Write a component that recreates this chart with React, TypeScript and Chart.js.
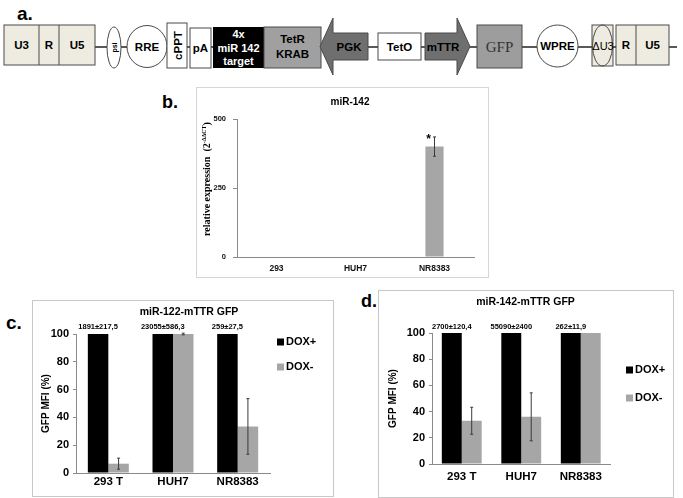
import React, { useEffect, useRef } from 'react';
import { Chart, registerables } from 'chart.js';

Chart.register(...registerables);

// ---------- data ----------
const expressionCategories = ['293', 'HUH7', 'NR8383'];
const mir142Expression = [0, 0, 400];
const mir142Error = [0, 0, 35];
const mir142Marks = ['', '', '*'];
const expressionStep = 250;
const expressionMax = 500;

const gfpCategories = ['293 T', 'HUH7', 'NR8383'];
const seriesNames = ['DOX+', 'DOX-'];
const gfpStep = 20;
const gfpMax = 100;

const mir122DoxPlus = [100, 100, 100];
const mir122DoxMinus = [6.7, 100, 33.5];
const mir122DoxMinusErr = [4, 0.6, 20];
const mir122MfiLabels = ['1891±217,5', '23055±586,3', '259±27,5'];

const mir142DoxPlus = [100, 100, 100];
const mir142DoxMinus = [33, 36, 100];
const mir142DoxMinusErr = [10.3, 18.3, 0];
const mir142MfiLabels = ['2700±120,4', '55090±2400', '262±11,9'];

// ---------- styles ----------
const SANS = '"Liberation Sans", Arial, sans-serif';
const SERIF = '"Liberation Serif", "Times New Roman", serif';
const BEIGE = '#EEECE1';
const STROKE = '#4a4a4a';
const BLACK = '#000000';
const GREY = '#A6A6A6';
const AXIS = '#8a8a8a';

// ---------- plugins ----------
const errorBarsPlugin = {
  id: 'errorBars',
  afterDatasetsDraw(chart: any) {
    const { ctx } = chart;
    const yScale = chart.scales.y;
    chart.data.datasets.forEach((ds: any, di: number) => {
      if (!ds.errors) return;
      const meta = chart.getDatasetMeta(di);
      meta.data.forEach((bar: any, i: number) => {
        const e = ds.errors[i];
        if (!e) return;
        const v = ds.data[i];
        const yTop = yScale.getPixelForValue(v + e);
        const yBot = yScale.getPixelForValue(v - e);
        ctx.save();
        ctx.strokeStyle = '#3a3a3a';
        ctx.lineWidth = 1;
        ctx.beginPath();
        ctx.moveTo(bar.x, yTop);
        ctx.lineTo(bar.x, yBot);
        ctx.moveTo(bar.x - 1.5, yTop);
        ctx.lineTo(bar.x + 1.5, yTop);
        ctx.moveTo(bar.x - 1.5, yBot);
        ctx.lineTo(bar.x + 1.5, yBot);
        ctx.stroke();
        ctx.restore();
      });
    });
  },
};

const barLabelsPlugin = {
  id: 'barLabels',
  afterDatasetsDraw(chart: any, _args: any, opts: any) {
    if (!opts || !opts.labels) return;
    const { ctx } = chart;
    const di = opts.datasetIndex || 0;
    const ds: any = chart.data.datasets[di];
    const meta = chart.getDatasetMeta(di);
    const yScale = chart.scales.y;
    ctx.save();
    ctx.font = opts.font;
    ctx.fillStyle = opts.color || '#000';
    ctx.textAlign = 'center';
    ctx.textBaseline = 'middle';
    meta.data.forEach((bar: any, i: number) => {
      const label = opts.labels[i];
      if (!label) return;
      let top = bar.y;
      if (opts.aboveError && ds.errors && ds.errors[i]) {
        top = yScale.getPixelForValue(ds.data[i] + ds.errors[i]);
      }
      ctx.fillText(label, bar.x + (opts.dx || 0), top - opts.gap);
    });
    ctx.restore();
  },
};

const sideLegendPlugin = {
  id: 'sideLegend',
  afterDraw(chart: any, _args: any, opts: any) {
    if (!opts || !opts.display) return;
    const { ctx } = chart;
    ctx.save();
    chart.data.datasets.forEach((ds: any, i: number) => {
      const y = opts.y + i * opts.spacing;
      ctx.fillStyle = ds.backgroundColor;
      ctx.fillRect(opts.x, y - opts.box / 2, opts.box, opts.box);
      ctx.fillStyle = '#000';
      ctx.font = opts.font;
      ctx.textAlign = 'left';
      ctx.textBaseline = 'middle';
      ctx.fillText(ds.label, opts.x + opts.box + opts.gap, y);
    });
    ctx.restore();
  },
};

const richAxisTitlePlugin = {
  id: 'richAxisTitle',
  afterDraw(chart: any, _args: any, opts: any) {
    if (!opts || !opts.parts) return;
    const { ctx, chartArea } = chart;
    ctx.save();
    ctx.translate(opts.x, (chartArea.top + chartArea.bottom) / 2 + (opts.dy || 0));
    ctx.rotate(-Math.PI / 2);
    ctx.fillStyle = '#000';
    ctx.textAlign = 'left';
    ctx.textBaseline = 'middle';
    let total = 0;
    opts.parts.forEach((p: any) => {
      ctx.font = p.font;
      total += ctx.measureText(p.text).width;
    });
    let x = -total / 2;
    opts.parts.forEach((p: any) => {
      ctx.font = p.font;
      ctx.fillText(p.text, x, -(p.raise || 0));
      x += ctx.measureText(p.text).width;
    });
    ctx.restore();
  },
};

Chart.register(errorBarsPlugin, barLabelsPlugin, sideLegendPlugin, richAxisTitlePlugin);
Chart.defaults.font.family = SANS;

// ---------- chart builders ----------
function gfpConfig(
  title: string,
  plus: number[],
  minus: number[],
  minusErr: number[],
  labels: string[],
  geo: any
) {
  return {
    type: 'bar',
    data: {
      labels: gfpCategories,
      datasets: [
        { label: seriesNames[0], data: plus, backgroundColor: BLACK, borderWidth: 0, categoryPercentage: geo.catPct, barPercentage: 1 },
        { label: seriesNames[1], data: minus, errors: minusErr, backgroundColor: GREY, borderWidth: 0, categoryPercentage: geo.catPct, barPercentage: 1 },
      ],
    },
    options: {
      responsive: false,
      animation: false,
      devicePixelRatio: 1,
      layout: { padding: { left: 0, right: 0, top: 0, bottom: geo.padBottom } },
      plugins: {
        legend: { display: false },
        tooltip: { enabled: false },
        title: {
          display: true,
          text: title,
          color: '#000',
          font: { family: SANS, size: 10.5, weight: 'bold' },
          padding: { top: geo.titleTop, bottom: geo.titleBottom },
        },
        barLabels: { labels, datasetIndex: 0, font: `bold 7.5px ${SANS}`, gap: geo.labelGap },
        sideLegend: { display: true, x: geo.legX, y: geo.legY, spacing: geo.legSpacing, box: 7, gap: 2, font: `bold 11px ${SANS}` },
      },
      scales: {
        x: {
          type: 'category',
          grid: { display: false, drawTicks: false },
          border: { display: true, color: AXIS, width: 1 },
          ticks: { color: '#000', font: { family: SANS, size: 11.5, weight: 'bold' }, padding: geo.xPad, maxRotation: 0 },
          afterFit: (s: any) => { s.height = geo.xHeight; },
        },
        y: {
          min: 0,
          max: gfpMax,
          ticks: { stepSize: gfpStep, color: '#000', font: { family: SANS, size: 11, weight: 'bold' }, padding: 4 },
          grid: { display: true, drawOnChartArea: false, drawTicks: true, tickLength: 3, color: AXIS },
          border: { display: true, color: AXIS, width: 1 },
          title: {
            display: true,
            text: 'GFP MFI (%)',
            color: '#000',
            font: { family: SANS, size: 10, weight: 'bold' },
            padding: { top: geo.yTitlePad, bottom: 0 },
          },
          afterFit: (s: any) => { s.width = geo.yWidth; },
        },
        pad: {
          position: 'right',
          display: true,
          grid: { display: false, drawTicks: false },
          ticks: { display: false },
          border: { display: false },
          afterFit: (s: any) => { s.width = geo.rightWidth; },
        },
      },
    },
  };
}

function expressionConfig() {
  return {
    type: 'bar',
    data: {
      labels: expressionCategories,
      datasets: [
        {
          label: 'miR-142',
          data: mir142Expression,
          errors: mir142Error,
          backgroundColor: GREY,
          borderWidth: 0,
          categoryPercentage: 1,
          barPercentage: 0.23,
        },
      ],
    },
    options: {
      responsive: false,
      animation: false,
      devicePixelRatio: 1,
      layout: { padding: { left: 0, right: 0, top: 0, bottom: 1 } },
      plugins: {
        legend: { display: false },
        tooltip: { enabled: false },
        title: {
          display: true,
          text: 'miR-142',
          color: '#000',
          font: { family: SANS, size: 10, weight: 'bold' },
          padding: { top: 9.5, bottom: 10.5 },
        },
        barLabels: { labels: mir142Marks, datasetIndex: 0, font: `bold 12px ${SANS}`, gap: -3, dx: -6, aboveError: true },
        richAxisTitle: {
          x: 10,
          dy: -9,
          parts: [
            { text: 'relative expression  (2', font: `bold 10px ${SERIF}` },
            { text: '-ΔΔCT', font: `bold 6px ${SERIF}`, raise: 3 },
            { text: ')', font: `bold 10px ${SERIF}` },
          ],
        },
      },
      scales: {
        x: {
          type: 'category',
          grid: { display: false, drawTicks: false },
          border: { display: true, color: AXIS, width: 1 },
          ticks: { color: '#111', font: { family: SANS, size: 8.5, weight: 'bold' }, padding: 7, maxRotation: 0 },
          afterFit: (s: any) => { s.height = 20; },
        },
        y: {
          min: 0,
          max: expressionMax,
          ticks: { stepSize: expressionStep, color: '#111', font: { family: SANS, size: 7.5, weight: 'bold' }, padding: 7 },
          grid: { display: true, drawOnChartArea: false, drawTicks: true, tickLength: 4, color: AXIS },
          border: { display: true, color: AXIS, width: 1 },
          afterFit: (s: any) => { s.width = 40; },
        },
        pad: {
          position: 'right',
          display: true,
          grid: { display: false, drawTicks: false },
          ticks: { display: false },
          border: { display: false },
          afterFit: (s: any) => { s.width = 29; },
        },
      },
    },
  };
}

// ---------- diagram ----------
function T(props: { x: number; y: number; s: string; fill?: string; size?: number; weight?: string; family?: string }) {
  return (
    <text
      x={props.x}
      y={props.y}
      textAnchor="middle"
      dominantBaseline="central"
      fontFamily={props.family || SANS}
      fontWeight={props.weight || 'bold'}
      fontSize={props.size || 11.5}
      fill={props.fill || '#000'}
    >
      {props.s}
    </text>
  );
}

function Backdrop() {
  return (
    <svg width={683} height={498} style={{ position: 'absolute', left: 0, top: 0 }}>
      <rect x={0} y={0} width={683} height={498} fill="#fff" />
      {/* panel labels */}
      <text x={17} y={20} fontFamily={SANS} fontWeight="bold" fontSize={19}>a.</text>
      <text x={162} y={108} fontFamily={SANS} fontWeight="bold" fontSize={18}>b.</text>
      <text x={6} y={329} fontFamily={SANS} fontWeight="bold" fontSize={19}>c.</text>
      <text x={361} y={307} fontFamily={SANS} fontWeight="bold" fontSize={18}>d.</text>
      {/* panel frames */}
      <rect x={196.5} y={87.5} width={292} height={190} fill="none" stroke="#D6D6D6" />
      <rect x={32.5} y={300.5} width={301} height={196} fill="none" stroke="#C8C8C8" />
      <rect x={378.5} y={290.5} width={295} height={207} fill="none" stroke="#C8C8C8" />

      {/* vector map */}
      <line x1={95} y1={47} x2={677} y2={47} stroke="#222" strokeWidth={1.6} />
      <rect x={4} y={25} width={91} height={40} fill={BEIGE} stroke={STROKE} />
      <line x1={39} y1={25} x2={39} y2={65} stroke={STROKE} />
      <line x1={59} y1={25} x2={59} y2={65} stroke={STROKE} />
      <T x={21.5} y={45} s="U3" />
      <T x={49} y={45} s="R" />
      <T x={77} y={45} s="U5" />

      <ellipse cx={114} cy={47.5} rx={7} ry={20.5} fill="#fff" stroke={STROKE} />
      <text transform="translate(114.5,47.5) rotate(-90)" textAnchor="middle" dominantBaseline="central" fontFamily={SANS} fontWeight="bold" fontSize={7}>psi</text>

      <ellipse cx={147} cy={46.5} rx={20} ry={21} fill="#fff" stroke={STROKE} />
      <T x={147} y={46.5} s="RRE" />

      <rect x={167} y={23} width={20} height={45} fill="#fff" stroke={STROKE} />
      <text transform="translate(177.5,45.5) rotate(-90)" textAnchor="middle" dominantBaseline="central" fontFamily={SANS} fontWeight="bold" fontSize={11.5}>cPPT</text>

      <rect x={190} y={28} width={21} height={40} fill="#fff" stroke={STROKE} />
      <T x={200.5} y={48} s="pA" />

      <rect x={213} y={27} width={51} height={41} fill="#000" />
      <T x={238.5} y={33.5} s="4x" fill="#fff" size={11} />
      <T x={238.5} y={47.5} s="miR 142" fill="#fff" size={11} />
      <T x={238.5} y={61} s="target" fill="#fff" size={11} />

      <rect x={264} y={27} width={57} height={41} fill="#A0A0A0" stroke={STROKE} />
      <T x={292.5} y={39} s="TetR" />
      <T x={292.5} y={54} s="KRAB" />

      <polygon points="320,46.5 333,18 333,33 368,33 368,60 333,60 333,75" fill="#6F6F6F" stroke={STROKE} />
      <T x={349} y={47} s="PGK" />

      <rect x={378} y={33} width={43} height={27} fill="#fff" stroke={STROKE} />
      <T x={399.5} y={47} s="TetO" />

      <polygon points="425,33 457,33 457,18 470,46.5 457,75 457,60 425,60" fill="#6F6F6F" stroke={STROKE} />
      <T x={443} y={47} s="mTTR" />

      <rect x={477} y={25} width={45} height={43} fill="#9D9D9D" stroke={STROKE} />
      <T x={499.5} y={46.5} s="GFP" family={SERIF} weight="normal" size={15} fill="#333" />

      <ellipse cx={557.5} cy={46} rx={20.5} ry={21} fill="#fff" stroke={STROKE} />
      <T x={557.5} y={46} s="WPRE" />

      <rect x={592} y={25} width={21} height={41} fill={BEIGE} stroke={STROKE} />
      <ellipse cx={602.5} cy={45.5} rx={10} ry={20.5} fill="none" stroke={STROKE} />
      <T x={603} y={46} s="ΔU3" size={11} weight="normal" />

      <rect x={616} y={25} width={53} height={40} fill={BEIGE} stroke={STROKE} />
      <line x1={636} y1={25} x2={636} y2={65} stroke={STROKE} />
      <T x={626} y={45} s="R" />
      <T x={652.5} y={45} s="U5" />
    </svg>
  );
}

export default function App() {
  const bRef = useRef<HTMLCanvasElement>(null);
  const cRef = useRef<HTMLCanvasElement>(null);
  const dRef = useRef<HTMLCanvasElement>(null);

  useEffect(() => {
    const charts: Chart[] = [];
    if (bRef.current) charts.push(new Chart(bRef.current, expressionConfig() as any));
    if (cRef.current)
      charts.push(
        new Chart(
          cRef.current,
          gfpConfig('miR-122-mTTR GFP', mir122DoxPlus, mir122DoxMinus, mir122DoxMinusErr, mir122MfiLabels, {
            catPct: 0.634,
            padBottom: 1,
            titleTop: 5.7,
            titleBottom: 15.7,
            labelGap: 7.5,
            legX: 245,
            legY: 42,
            legSpacing: 25,
            xPad: 2,
            xHeight: 22,
            yTitlePad: 8,
            yWidth: 44,
            rightWidth: 76,
          }) as any
        )
      );
    if (dRef.current)
      charts.push(
        new Chart(
          dRef.current,
          gfpConfig('miR-142-mTTR GFP', mir142DoxPlus, mir142DoxMinus, mir142DoxMinusErr, mir142MfiLabels, {
            catPct: 0.67,
            padBottom: 3,
            titleTop: 5.7,
            titleBottom: 24.7,
            labelGap: 6.5,
            legX: 248,
            legY: 80,
            legSpacing: 28,
            xPad: 5.5,
            xHeight: 30,
            yTitlePad: 9,
            yWidth: 54,
            rightWidth: 62.5,
          }) as any
        )
      );
    return () => charts.forEach((c) => c.destroy());
  }, []);

  return (
    <div style={{ position: 'absolute', left: 0, top: 0, width: 683, height: 498, overflow: 'hidden', background: '#fff' }}>
      <Backdrop />
      <canvas ref={bRef} width={306} height={191} style={{ position: 'absolute', left: 197, top: 87, width: 306, height: 191 }} />
      <canvas ref={cRef} width={314} height={196} style={{ position: 'absolute', left: 32, top: 300, width: 314, height: 196 }} />
      <canvas ref={dRef} width={295} height={207} style={{ position: 'absolute', left: 378, top: 290, width: 295, height: 207 }} />
    </div>
  );
}
